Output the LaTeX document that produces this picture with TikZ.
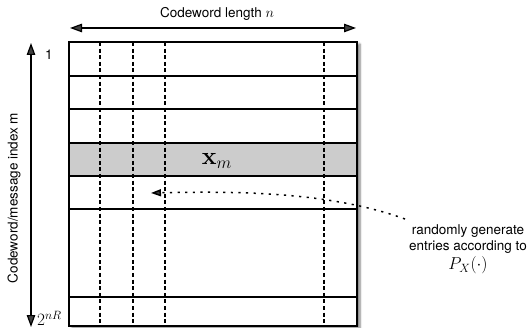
\documentclass[tikz,border=0pt]{standalone}
\usepackage[no-math]{fontspec}
\setmainfont{TeX Gyre Heros}
\usetikzlibrary{arrows.meta,shadows.blur}
\begin{document}
\begin{tikzpicture}[x=1pt,y=-1pt,
  lbl/.style={font=\fontsize{13.5}{16}\selectfont, inner sep=0pt},
  bigarrow/.style={line width=1.2pt, {Triangle[length=12pt,width=8.5pt]}-{Triangle[length=12pt,width=8.5pt]}},
  rowline/.style={line width=1.2pt},
  colline/.style={line width=1.3pt, dash pattern=on 4pt off 2.6pt},
  frameline/.style={line width=2.8pt},
  dotconn/.style={line width=1.5pt, dash pattern=on 2.2pt off 5.4pt, -{Triangle[length=10pt,width=7pt]}},
]
\useasboundingbox (0,0) rectangle (532,328);
% frame with shadow
\fill[white, blur shadow={shadow xshift=3pt, shadow yshift=-2pt, shadow blur steps=6, shadow opacity=50}] (69,42) rectangle (357,326);
\fill[gray!40] (69,143) rectangle (357,176);
\foreach \yy in {76,109,143,176,209,297} \draw[rowline] (69,\yy) -- (357,\yy);
\foreach \xx in {100,133,165,324} \draw[colline] (\xx,42) -- (\xx,326);
\draw[frameline] (69,42) rectangle (357,326);
% arrows
\coordinate (hl) at (70,28);
\coordinate (hr) at (356,28);
\draw[bigarrow] (hl) -- (hr);
\coordinate (vt) at (31,43);
\coordinate (vb) at (31,327);
\draw[bigarrow] (vt) -- (vb);
% labels
\node[lbl] (title) at (217,14) {Codeword length $n$};
\node[lbl] (one) at (49,55) {1};
\node[lbl, rotate=90] (ylabel) at (14,198) {Codeword/message index m};
\node[inner sep=0pt, anchor=base west, font=\fontsize{17}{17}\selectfont] (last) at (37,325.5) {$2^{nR}$};
\node[inner sep=0pt, anchor=base, font=\fontsize{24}{24}\selectfont] (xm) at (217,165) {$\mathbf{x}_m$};
\node[lbl, align=center, anchor=north] (rg) at (468,224.5) {randomly generate\\entries according to\\[3pt]{\fontsize{17}{17}\selectfont$P_X(\cdot)$}};
% dotted connector
\coordinate (dstart) at (405,219);
\coordinate (dtip) at (151,193);
\draw[dotconn] (dstart) .. controls (330,192) and (240,191) .. (dtip);
\end{tikzpicture}
\end{document}
